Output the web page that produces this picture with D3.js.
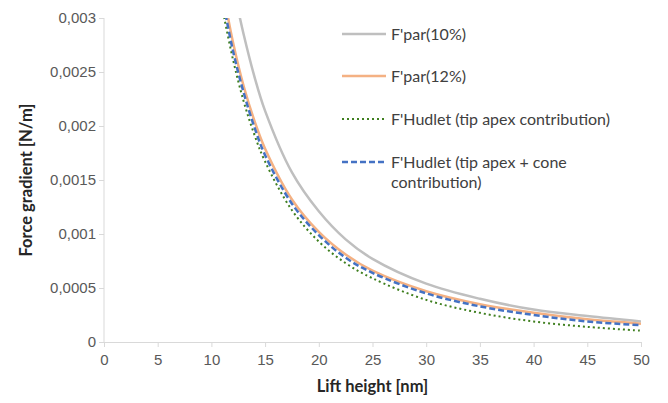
<!DOCTYPE html>
<meta charset="utf-8">
<script src="https://d3js.org/d3.v7.min.js"></script>
<style>
body { margin: 0; background: #fff; }
svg { display: block; font-family: Lato, "Open Sans", sans-serif; }
.axis path, .axis line { stroke: #d9d9d9; }
.axis text { fill: #595959; font-size: 15px; }
.title { font-weight: bold; font-size: 16.5px; fill: #262626; }
.legend text { fill: #404040; font-size: 16px; }
</style>
<body>
<script>

// lift height [nm] sampled along the curves
var heights = [11, 12, 13, 14, 15, 17.5, 20, 22.5, 25, 30, 35, 40, 45, 50];

// force gradient [N/m]
var parTen     = [null, 0.0033, 0.00285, 0.00246, 0.00214, 0.00157, 0.00121, 0.00095, 0.00077, 0.00054, 0.00040, 0.00030, 0.00024, 0.00019];
var parTwelve  = [0.0033, 0.00278, 0.00237, 0.00205, 0.00179, 0.00132, 0.00102, 0.00081, 0.00066, 0.00047, 0.00035, 0.00027, 0.00021, 0.00017];
var hudletApex = [0.0031, 0.00262, 0.00223, 0.00192, 0.00167, 0.00122, 0.00093, 0.00073, 0.00059, 0.00039, 0.00027, 0.00019, 0.00014, 0.000105];
var hudletCone = [0.0032, 0.00270, 0.00231, 0.00199, 0.00173, 0.00128, 0.00099, 0.00078, 0.00064, 0.00045, 0.00033, 0.00025, 0.00019, 0.000155];

var seriesNames = ["F'par(10%)", "F'par(12%)", "F'Hudlet (tip apex contribution)", "F'Hudlet (tip apex + cone contribution)"];
var seriesValues = [parTen, parTwelve, hudletApex, hudletCone];

var xTicks = [0, 5, 10, 15, 20, 25, 30, 35, 40, 45, 50];
var yTicks = [0, 0.0005, 0.001, 0.0015, 0.002, 0.0025, 0.003];
var yTickLabels = ["0", "0,0005", "0,001", "0,0015", "0,002", "0,0025", "0,003"];

var styles = [
    {color: "#bfbfbf", width: 2.5, dash: null},
    {color: "#f4b183", width: 2.5, dash: null},
    {color: "#3f7f1f", width: 2, dash: "2,3"},
    {color: "#4472c4", width: 2.5, dash: "6,3"}
];

var width = 668, height = 403;
var margin = {left: 104, right: 27, top: 18, bottom: 61};

var svg = d3.select("body").append("svg")
    .attr("width", width)
    .attr("height", height);

var x = d3.scaleLinear().domain([0, 50]).range([margin.left, width - margin.right]);
var y = d3.scaleLinear().domain([0, 0.003]).range([height - margin.bottom, margin.top]);

svg.append("defs").append("clipPath").attr("id", "plot")
    .append("rect")
    .attr("x", margin.left)
    .attr("y", margin.top)
    .attr("width", width - margin.left - margin.right)
    .attr("height", height - margin.top - margin.bottom);

var xAxis = svg.append("g")
    .attr("class", "axis")
    .attr("transform", "translate(0," + y(0) + ")")
    .call(d3.axisBottom(x).tickValues(xTicks).tickSize(5).tickSizeOuter(0));
xAxis.selectAll("text").attr("dy", "1em");

var yAxis = svg.append("g")
    .attr("class", "axis")
    .attr("transform", "translate(" + x(0) + ",0)")
    .call(d3.axisLeft(y).tickValues(yTicks).tickSize(5).tickSizeOuter(0)
        .tickFormat(function(d, i) { return yTickLabels[i]; }));
yAxis.selectAll("text").attr("x", -8);
yAxis.select(".domain").attr("d", "M0," + y(0) + "V" + y(0.003));

var line = d3.line()
    .defined(function(d) { return d[1] != null; })
    .x(function(d) { return x(d[0]); })
    .y(function(d) { return y(d[1]); })
    .curve(d3.curveCatmullRom.alpha(0.5));

var curves = svg.append("g").attr("clip-path", "url(#plot)");

seriesValues.forEach(function(vals, i) {
    var pts = heights.map(function(h, j) { return [h, vals[j]]; });
    curves.append("path")
        .datum(pts)
        .attr("fill", "none")
        .attr("stroke", styles[i].color)
        .attr("stroke-width", styles[i].width)
        .attr("stroke-dasharray", styles[i].dash)
        .attr("d", line);
});

svg.append("text")
    .attr("class", "title")
    .attr("x", (x(0) + x(50)) / 2)
    .attr("y", 392)
    .attr("text-anchor", "middle")
    .text("Lift height [nm]");

svg.append("text")
    .attr("class", "title")
    .attr("transform", "translate(32," + (y(0.0015)) + ") rotate(-90)")
    .attr("text-anchor", "middle")
    .text("Force gradient [N/m]");

// legend
var legendRows = [34, 76, 119, 162];
var legend = svg.append("g").attr("class", "legend");

seriesNames.forEach(function(name, i) {
    var g = legend.append("g").attr("transform", "translate(342," + legendRows[i] + ")");
    g.append("line")
        .attr("x1", 0).attr("x2", 44)
        .attr("stroke", styles[i].color)
        .attr("stroke-width", styles[i].width)
        .attr("stroke-dasharray", styles[i].dash);
    var t = g.append("text").attr("x", 49).attr("dy", "0.35em");
    if (i == 3) {
        t.append("tspan").text("F'Hudlet (tip apex + cone");
        t.append("tspan").attr("x", 49).attr("dy", "1.3em").text("contribution)");
    } else {
        t.text(name);
    }
});

</script>
</body>
